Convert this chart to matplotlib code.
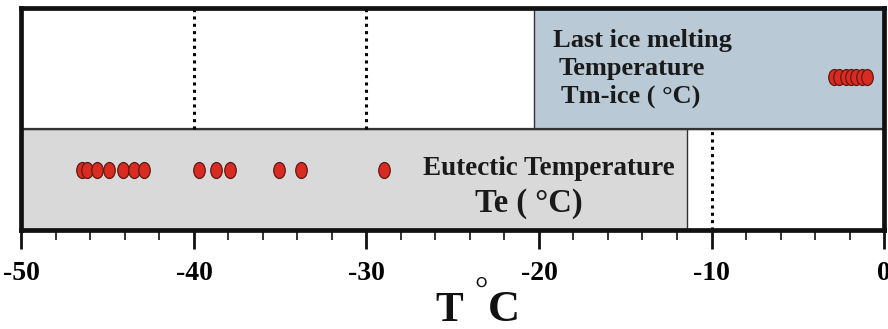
import matplotlib
matplotlib.use('Agg')
import matplotlib.pyplot as plt
from matplotlib.markers import MarkerStyle
from matplotlib.patches import Rectangle
from matplotlib.transforms import Affine2D

# ── Data (temperatures in degC) ────────────────────────────────────────────
eutectic_T = [-46.5, -46.2, -45.6, -44.9, -44.1, -43.5, -42.9,
              -39.7, -38.7, -37.9, -35.1, -33.8, -29.0]
tm_ice_T = [-2.9, -2.6, -2.2, -1.9, -1.6, -1.3, -1.0]
major_ticks = [-50, -40, -30, -20, -10, 0]
tick_labels = ['-50', '-40', '-30', '-20', '-10', '0']
tm_box_range = (-20.3, 0)      # blue "last ice melting" band
te_box_range = (-50, -11.4)    # grey "eutectic" band

SERIF = ['Liberation Serif', 'DejaVu Serif']
plt.rcParams['font.family'] = SERIF

W, H = 888, 329
fig = plt.figure(figsize=(W / 100, H / 100), dpi=100)
ax = fig.add_axes([0.0242, 0.2994, 0.9713, 0.6748])
ax.set_xlim(-50, 0)
ax.set_ylim(0, 1)

mid = 0.457

def ypix(p):
    # pixel row (from top of picture) -> axes y fraction
    return (230.5 - p) / 222

# background bands
ax.add_patch(Rectangle((tm_box_range[0], mid), tm_box_range[1] - tm_box_range[0], 1 - mid,
                       facecolor='#b9cad6', edgecolor='#333333', lw=1.0, zorder=1))
ax.add_patch(Rectangle((te_box_range[0], 0), te_box_range[1] - te_box_range[0], mid,
                       facecolor='#d9d9d9', edgecolor='#333333', lw=1.0, zorder=1))
ax.axhline(mid, color='#333333', lw=1.6, zorder=2)

# dotted guide lines
dot = dict(color='black', lw=2.2, linestyle=(0, (1, 1.4)), dash_capstyle='butt', zorder=2)
for xv in (-40, -30):
    ax.plot([xv, xv], [mid, 1], **dot)
ax.plot([-10, -10], [0, mid], **dot)

# ellipse markers
ell = MarkerStyle('o', transform=Affine2D().scale(0.72, 1.0))
mk = dict(marker=ell, ms=11.5, mfc='#d92b22', mec='#5e1a12', mew=0.9, ls='none', zorder=3)
ax.plot(eutectic_T, [0.273] * len(eutectic_T), **mk)
ax.plot(tm_ice_T, [0.691] * len(tm_ice_T), **mk)

# labels inside the bands
tb = dict(fontweight='bold', color='#1a1a1a', ha='center', va='baseline', zorder=4)
ax.text(-14.0, ypix(47), 'Last ice melting', fontsize=19, **tb)
ax.text(-14.6, ypix(75), 'Temperature', fontsize=19, **tb)
ax.text(-14.7, ypix(103), 'Tm-ice ( °C)', fontsize=19, **tb)
ax.text(-19.4, ypix(175), 'Eutectic Temperature', fontsize=19.5, **tb)
ax.text(-20.6, ypix(212), 'Te ( °C)', fontsize=23.5, **tb)

# axes styling
for side in ('top', 'bottom', 'left', 'right'):
    ax.spines[side].set_linewidth(3.4)
    ax.spines[side].set_color('#111111')
ax.set_yticks([])
ax.set_xticks(major_ticks)
ax.set_xticklabels(tick_labels, fontsize=20, fontweight='bold')
ax.set_xticks(range(-50, 1, 2), minor=True)
ax.tick_params(axis='x', which='major', direction='out', length=14, width=2.0,
               pad=8, color='#111111')
ax.tick_params(axis='x', which='minor', direction='out', length=7, width=1.2,
               color='#111111')

# axis title "T°C" with a raised degree sign
ft = dict(fontweight='bold', color='#111111', va='baseline', ha='center')
fig.text(449 / W, 1 - 321 / H, 'T', fontsize=30, **ft)
fig.text(504 / W, 1 - 321 / H, 'C', fontsize=32, **ft)
fig.text(481 / W, 1 - 276 / H, '°', fontsize=24, color='#111111',
         ha='center', va='top')

fig.savefig('out.png', dpi=100)
